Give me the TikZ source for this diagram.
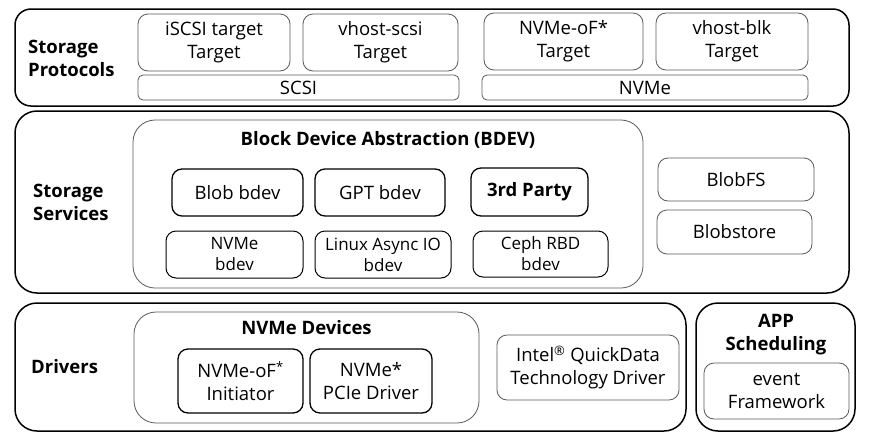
\documentclass[tikz,border=0pt]{standalone}
\usepackage{fontspec}
\setmainfont{Open Sans}
\usepackage{tikz}
\definecolor{thinline}{gray}{0.35}

\begin{document}
\begin{tikzpicture}[x=1pt, y=-1pt,
		layer/.style={draw=black, line width=1.5pt, rounded corners=16pt, inner sep=0pt},
		group/.style={draw=thinline, line width=0.8pt, rounded corners=22pt, inner sep=0pt},
		softbox/.style={draw=thinline, line width=0.8pt, rounded corners=10pt, inner sep=0pt, align=center, font=\fsz},
		hardbox/.style={draw=black, line width=1.3pt, rounded corners=10pt, inner sep=0pt, align=center, font=\fsz},
		bar/.style={draw=thinline, line width=0.8pt, rounded corners=5pt, inner sep=0pt, font=\fsz},
		title/.style={font=\fsz\bfseries, align=center, inner sep=0pt},
		side/.style={font=\fsz\bfseries, align=left, anchor=west, inner sep=0pt}]
	\def\fsz{\fontsize{18.5}{23}\selectfont}
	\def\ssz{\fontsize{17}{21}\selectfont}
	\useasboundingbox (0,0) rectangle (876,440);
	
	% Storage Protocols
	\node[layer, minimum width=834, minimum height=97] (proto) at (432,57.5) {};
	\node[side] (protolbl) at (28,58) {Storage\\Protocols};
	\node[softbox, minimum width=152, minimum height=57] (iscsi) at (214,42.5) {iSCSI target\\Target};
	\node[softbox, minimum width=155, minimum height=57] (vscsi) at (380.5,42.5) {vhost-scsi\\Target};
	\node[bar, minimum width=321, minimum height=25] (scsi) at (298.5,87.5) {SCSI};
	\node[softbox, minimum width=159, minimum height=57] (nvmf) at (563.5,41.5) {NVMe-oF*\\Target};
	\node[softbox, minimum width=152, minimum height=57] (vblk) at (732,41.5) {vhost-blk\\Target};
	\node[bar, minimum width=326, minimum height=25] (nvme) at (645,87.5) {NVMe};
	
	% Storage Services
	\node[layer, minimum width=834, minimum height=182, rounded corners=22pt] (serv) at (432,202) {};
	\node[side] (servlbl) at (33,202) {Storage\\Services};
	\node[group, minimum width=510, minimum height=168] (bdev) at (388,204) {};
	\node[title] (bdevlbl) at (388,140) {Block Device Abstraction (BDEV)};
	\node[hardbox, minimum width=131, minimum height=47] (blob) at (237.5,192.5) {Blob bdev};
	\node[hardbox, minimum width=130, minimum height=47] (gpt) at (380,192.5) {GPT bdev};
	\node[hardbox, minimum width=117, minimum height=48, font=\fsz\bfseries] (third) at (529.5,192) {3rd Party};
	\node[hardbox, line width=1pt, minimum width=137, minimum height=47, font=\ssz] (nvmebdev) at (234.5,254.5) {NVMe\\bdev};
	\node[hardbox, line width=1pt, minimum width=136, minimum height=47, font=\ssz] (aio) at (383,254.5) {Linux Async IO\\bdev};
	\node[hardbox, line width=1pt, minimum width=135, minimum height=46, font=\ssz] (ceph) at (540.5,254) {Ceph RBD\\bdev};
	\node[softbox, minimum width=156, minimum height=43] (blobfs) at (736,179.5) {BlobFS};
	\node[softbox, minimum width=155, minimum height=44] (blobstore) at (734.5,232) {Blobstore};
	
	% Drivers
	\node[layer, minimum width=671, minimum height=128, rounded corners=22pt] (drv) at (350.5,367) {};
	\node[side] (drvlbl) at (31,367) {Drivers};
	\node[group, minimum width=345, minimum height=111] (nvmedev) at (306.5,367.5) {};
	\node[title] (nvmedevlbl) at (306.5,328) {NVMe Devices};
	\node[hardbox, minimum width=125, minimum height=64] (init) at (240.5,381) {NVMe-oF\textsuperscript{*}\\Initiator};
	\node[hardbox, minimum width=122, minimum height=64] (pcie) at (371,381) {NVMe*\\PCIe Driver};
	\node[softbox, minimum width=182, minimum height=65] (qd) at (588,367.5) {Intel\textsuperscript{®} QuickData\\Technology Driver};
	
	% APP Scheduling
	\node[layer, minimum width=159, minimum height=128, rounded corners=22pt] (app) at (775.5,367) {};
	\node[title] (applbl) at (776,335) {APP\\Scheduling};
	\node[softbox, minimum width=145, minimum height=56] (event) at (776.5,391) {event\\Framework};
\end{tikzpicture}
\end{document}
